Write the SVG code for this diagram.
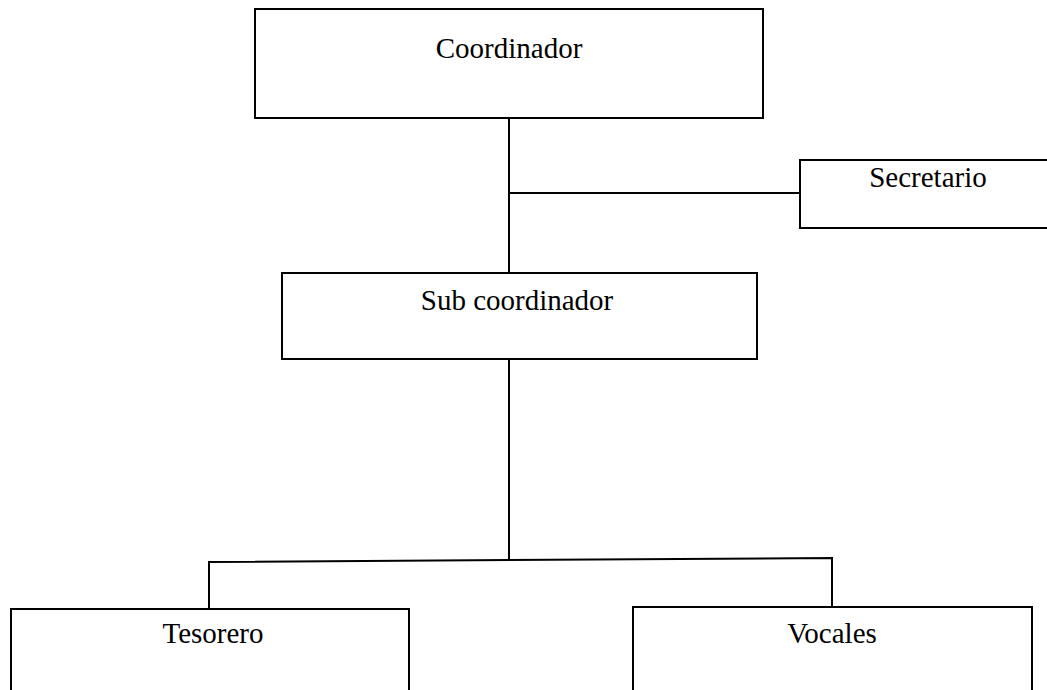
<svg xmlns="http://www.w3.org/2000/svg" width="1047" height="690" viewBox="0 0 1047 690">
<style>
.box{fill:#fff;stroke:#000;stroke-width:2}
.lbl{font-family:"Liberation Serif","Times New Roman",serif;font-size:29px;fill:#000;text-anchor:middle}
.conn{fill:none;stroke:#000;stroke-width:2}
</style>
<rect width="1047" height="690" fill="#fff"/>
<g id="connectors">
<path class="conn" d="M509,118 V273"/>
<path class="conn" d="M509,193 H800"/>
<path class="conn" d="M509,359 V560"/>
<path class="conn" d="M209,609 V562 L832,558 V607"/>
</g>
<g id="coordinador"><rect class="box" x="255" y="9" width="508" height="109"/><text class="lbl" x="509" y="58">Coordinador</text></g>
<g id="secretario"><rect class="box" x="800" y="160" width="270" height="68"/><text class="lbl" x="928" y="187">Secretario</text></g>
<g id="subcoordinador"><rect class="box" x="282" y="273" width="475" height="86"/><text class="lbl" x="517" y="310">Sub coordinador</text></g>
<g id="tesorero"><rect class="box" x="11" y="609" width="398" height="110"/><text class="lbl" x="213" y="643">Tesorero</text></g>
<g id="vocales"><rect class="box" x="633" y="607" width="399" height="110"/><text class="lbl" x="832" y="643">Vocales</text></g>
</svg>
